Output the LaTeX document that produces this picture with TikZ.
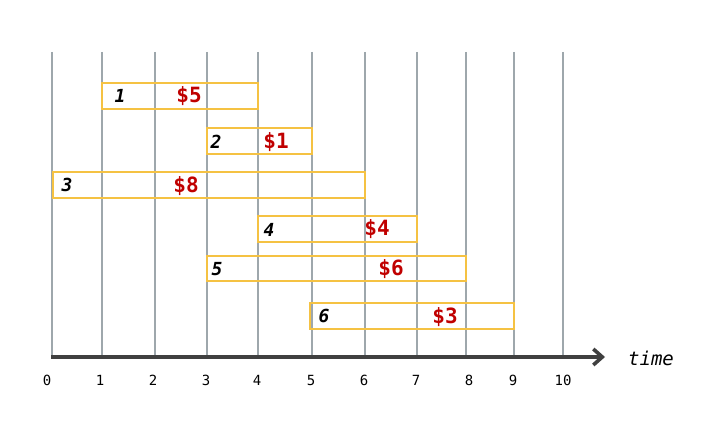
\documentclass[tikz,border=0pt]{standalone}
\usepackage{fontspec}
\setmonofont{DejaVu Sans Mono}
\usetikzlibrary{arrows.meta}
\definecolor{gridg}{HTML}{9EA7AC}
\definecolor{boxy}{HTML}{F5C243}
\definecolor{money}{HTML}{C00000}
\definecolor{axisg}{HTML}{404040}
\tikzset{
  gridline/.style={draw=gridg, line width=2.6pt},
  job/.style={draw=boxy, line width=2.2pt},
  jobid/.style={font=\ttfamily\bfseries\itshape\fontsize{18}{18}\selectfont, anchor=center, inner sep=0pt},
  cost/.style={font=\ttfamily\bfseries\fontsize{21}{21}\selectfont, text=money, anchor=center, inner sep=0pt},
  ticklab/.style={font=\ttfamily\fontsize{14}{14}\selectfont, anchor=center, inner sep=0pt},
  axisline/.style={draw=axisg, line width=3.6pt, -{Straight Barb[length=9pt,width=16pt,line width=3.6pt]}},
}
\begin{document}
\begin{tikzpicture}[x=1pt,y=-1pt]
\useasboundingbox (0,0) rectangle (706,435);
% grid coordinates
\foreach \i/\x in {0/52,1/102,2/155,3/207,4/258,5/312,6/365,7/417,8/466,9/514,10/563}{
  \coordinate (t\i) at (\x,52);
  \coordinate (b\i) at (\x,357);
  \draw[gridline] (t\i) -- (b\i);
}
% tick labels
\foreach \i/\x in {0/47,1/100,2/153,3/206,4/257,5/311,6/364,7/416,8/469,9/513,10/563}{
  \node[ticklab] (l\i) at (\x,380) {\i};
}
% axis
\coordinate (ax0) at (51,357);
\coordinate (ax1) at (605,357);
\draw[axisline] (ax0) -- (ax1);
\node[font=\ttfamily\itshape\fontsize{19}{19}\selectfont, anchor=center, inner sep=0pt] (timelab) at (651,358) {time};
% jobs
\draw[job] (102,83) rectangle (258,109);
\node[jobid] (j1) at (120,96) {1};
\node[cost] (c1) at (189,96) {\$5};
\draw[job] (207,128) rectangle (312,154);
\node[jobid] (j2) at (216,142) {2};
\node[cost] (c2) at (276,142) {\$1};
\draw[job] (53,172) rectangle (365,198);
\node[jobid] (j3) at (67,185) {3};
\node[cost] (c3) at (186,186) {\$8};
\draw[job] (258,216) rectangle (417,242);
\node[jobid] (j4) at (269,230) {4};
\node[cost] (c4) at (377,229) {\$4};
\draw[job] (207,256) rectangle (466,281);
\node[jobid] (j5) at (217,269) {5};
\node[cost] (c5) at (391,269) {\$6};
\draw[job] (310,303) rectangle (514,329);
\node[jobid] (j6) at (324,316) {6};
\node[cost] (c6) at (445,317) {\$3};
\end{tikzpicture}
\end{document}
